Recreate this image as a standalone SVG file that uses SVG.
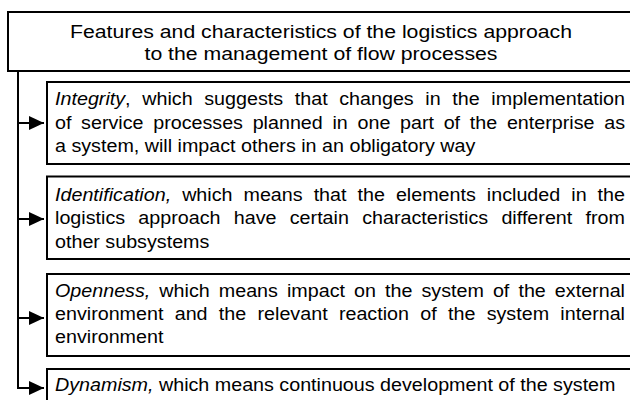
<svg xmlns="http://www.w3.org/2000/svg" width="630" height="400" viewBox="0 0 630 400">
<style>
  .box { fill: #ffffff; stroke: #000000; stroke-width: 2; }
  .t { font-family: "Liberation Sans", Arial, sans-serif; font-size: 17.5px; fill: #000000; }
  .it { font-style: italic; }
  .conn { fill: none; stroke: #000000; stroke-width: 2; }
</style>
<defs>
  <marker id="ah" markerUnits="userSpaceOnUse" markerWidth="15" markerHeight="14" refX="15" refY="7" orient="auto">
    <path d="M0,0 L15,7 L0,14 Z" fill="#000000"/>
  </marker>
</defs>
<rect width="630" height="400" fill="#ffffff"/>

<g id="connectors">
  <path class="conn" d="M18,71 V388"/>
  <path class="conn" d="M17,123 H44" marker-end="url(#ah)"/>
  <path class="conn" d="M17,219 H44" marker-end="url(#ah)"/>
  <path class="conn" d="M17,318 H44" marker-end="url(#ah)"/>
  <path class="conn" d="M17,388 H44" marker-end="url(#ah)"/>
</g>

<g id="title">
  <rect class="box" x="8" y="12" width="640" height="59"/>
  <text class="t" x="70" y="37.5" textLength="502" lengthAdjust="spacingAndGlyphs">Features and characteristics of the logistics approach</text>
  <text class="t" x="144.5" y="60" textLength="353" lengthAdjust="spacingAndGlyphs">to the management of flow processes</text>
</g>

<g id="integrity">
  <rect class="box" x="47" y="82" width="600" height="82"/>
  <g transform="translate(55 0) scale(1.126 1)">
    <text class="t" x="0" y="105.5" word-spacing="5.47" textLength="506.2" lengthAdjust="spacing"><tspan class="it">Integrity</tspan>, which suggests that changes in the implementation</text>
    <text class="t" x="0" y="129" word-spacing="3.74" textLength="506.2" lengthAdjust="spacing">of service processes planned in one part of the enterprise as</text>
    <text class="t" x="0" y="152.5">a system, will impact others in an obligatory way</text>
  </g>
</g>

<g id="identification">
  <rect class="box" x="47" y="176.5" width="600" height="82.5"/>
  <g transform="translate(55 0) scale(1.126 1)">
    <text class="t" x="0" y="201" word-spacing="4.91" textLength="506.2" lengthAdjust="spacing"><tspan class="it">Identification,</tspan> which means that the elements included in the</text>
    <text class="t" x="0" y="224.5" word-spacing="6.88" textLength="506.2" lengthAdjust="spacing">logistics approach have certain characteristics different from</text>
    <text class="t" x="0" y="248">other subsystems</text>
  </g>
</g>

<g id="openness">
  <rect class="box" x="47" y="274" width="600" height="82"/>
  <g transform="translate(55 0) scale(1.126 1)">
    <text class="t" x="0" y="297" word-spacing="3.18" textLength="506.2" lengthAdjust="spacing"><tspan class="it">Openness,</tspan> which means impact on the system of the external</text>
    <text class="t" x="0" y="320" word-spacing="5.16" textLength="506.2" lengthAdjust="spacing">environment and the relevant reaction of the system internal</text>
    <text class="t" x="0" y="343">environment</text>
  </g>
</g>

<g id="dynamism">
  <rect class="box" x="47" y="369" width="600" height="60"/>
  <g transform="translate(55 0) scale(1.126 1)">
    <text class="t" x="0" y="391"><tspan class="it">Dynamism,</tspan> which means continuous development of the system</text>
  </g>
</g>
</svg>
